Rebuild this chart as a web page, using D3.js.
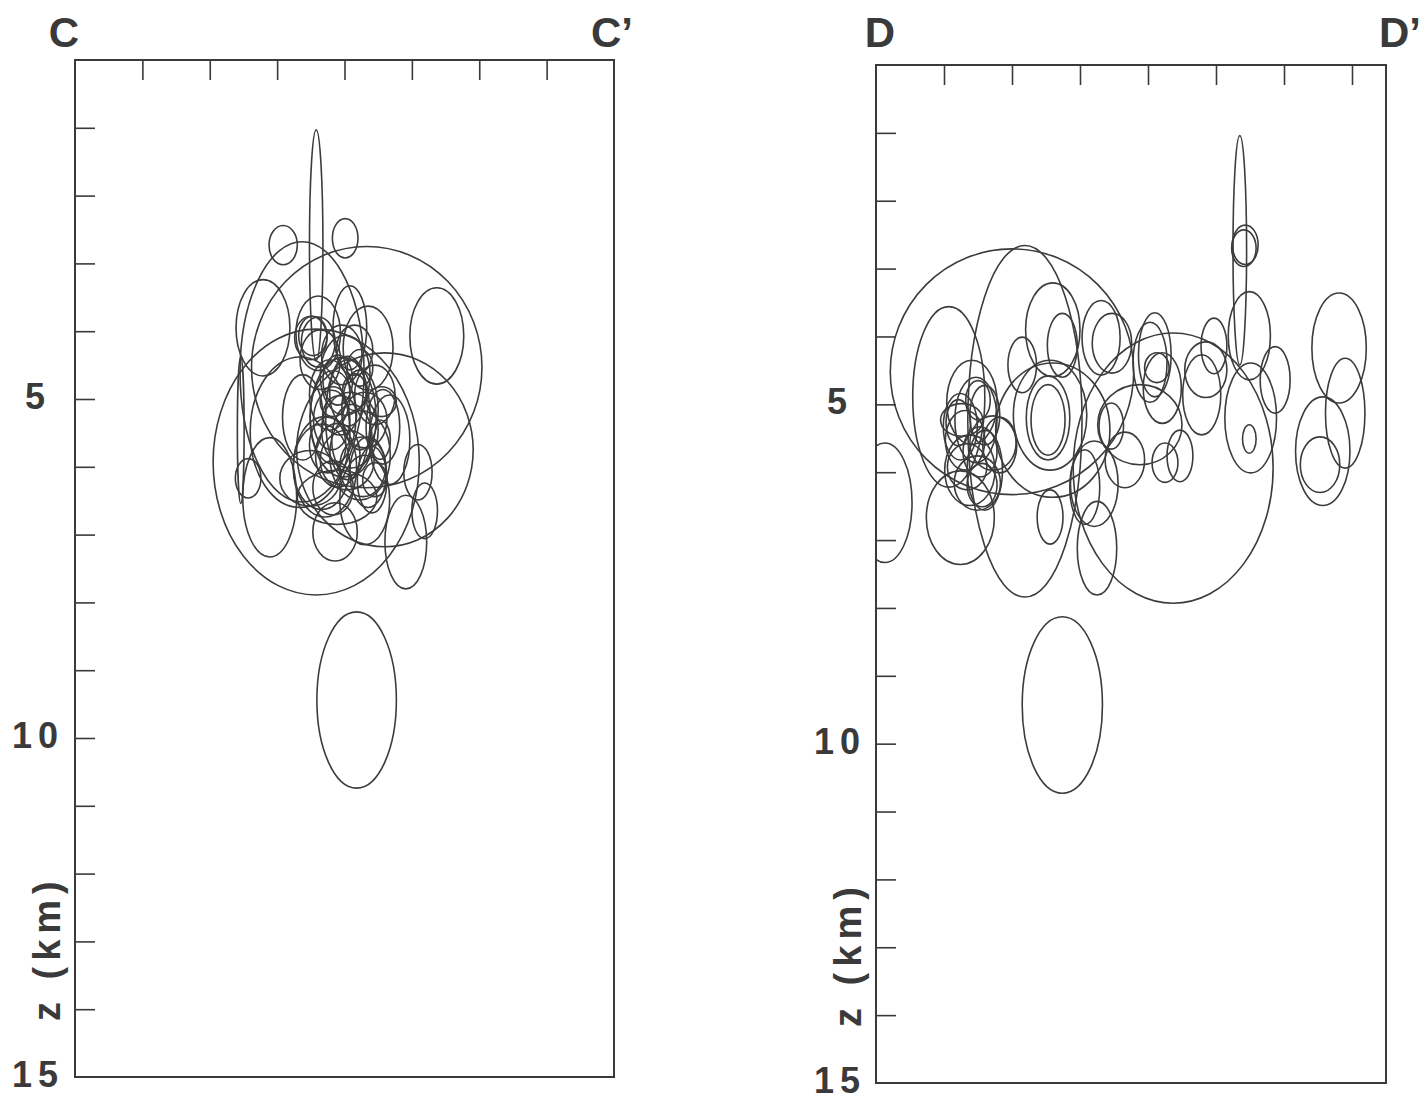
<!DOCTYPE html>
<html><head><meta charset="utf-8">
<script src="https://cdn.jsdelivr.net/npm/d3@7"></script>
<style>
html,body{margin:0;padding:0;background:#fff;}
svg{display:block;}
text{font-family:"Liberation Sans",Arial,Helvetica,sans-serif;font-weight:bold;fill:#3a3a3a;}
</style></head>
<body>
<svg id="chart" width="1428" height="1100"></svg>
<script>
// ---- data (km) ----
const xTicks = [1,2,3,4,5,6,7];
const zTicks = [1,2,3,4,5,6,7,8,9,10,11,12,13,14];
const zLabels = [5,10,15];
const axisTitle = "z (km)";
const panelNames = ["C","C’","D","D’"];

// Section C-C' : centre x, centre z, half-width, half-height (km)
const cX  = [3.58,2.46,3.09,4.01,4.33,5.37,3.58,4.60,2.79,3.37,2.57,2.89,3.86,4.91,5.09,5.19,4.18,3.50,3.53,3.61,3.61,4.08,4.35,3.98,4.57,4.53,3.83,4.05,3.81,4.05,4.04,4.27,3.38,3.49,3.89,4.35,4.30,3.71,3.83,4.45,4.23,3.83,4.15,4.55,3.93,3.66,4.41,3.34,3.90,4.11,4.30,3.75,3.96,4.67,4.23,
             4.01,3.78,4.23,4.08,4.45,3.90,3.64,4.15];
const cZ  = [2.73,5.46,2.73,2.63,4.53,4.07,5.93,5.75,3.95,4.60,6.17,6.45,6.96,7.11,6.08,6.65,9.44,4.10,4.07,4.16,4.03,3.95,4.25,5.27,5.41,5.60,5.27,5.28,5.31,4.91,5.90,6.00,5.27,6.17,6.45,6.08,6.49,6.00,6.31,6.19,4.54,5.04,4.90,5.04,5.24,6.00,6.19,5.49,4.72,5.60,5.31,5.68,4.35,5.60,5.83,
             4.65,4.94,5.16,5.46,4.94,5.83,4.42,4.28];
const cEx = [0.10,0.05,0.21,0.19,1.71,0.40,1.53,1.31,0.40,0.92,0.19,0.40,0.33,0.31,0.21,0.19,0.59,0.24,0.21,0.25,0.33,0.25,0.37,0.49,0.25,0.15,0.34,0.33,0.27,0.27,0.40,0.34,0.30,0.45,0.59,0.27,0.37,0.47,0.30,0.18,0.19,0.19,0.18,0.22,0.25,0.42,0.22,0.74,0.22,0.30,0.33,0.27,0.30,0.30,0.45,
             0.37,0.30,0.27,0.42,0.30,0.33,0.30,0.27];
const cEz = [1.70,1.08,0.29,0.29,1.78,0.71,1.96,1.43,0.71,1.92,0.29,0.88,0.43,0.69,0.41,0.41,1.30,0.32,0.29,0.37,0.55,0.62,0.62,0.88,0.55,0.29,0.69,0.91,0.44,0.49,0.44,0.44,0.63,0.41,0.40,0.52,0.66,0.74,0.40,0.25,0.27,0.22,0.27,0.22,0.29,0.63,0.49,1.11,0.37,0.52,0.41,0.41,0.44,0.66,0.66,
             0.59,0.52,0.59,0.56,0.44,0.47,0.44,0.37];

// Section D-D'
const dX  = [5.35,5.43,5.41,2.00,2.19,1.07,0.13,1.24,2.60,2.74,2.15,2.56,2.53,2.53,4.37,3.31,3.21,3.25,2.56,3.46,3.66,4.10,4.03,4.21,4.13,4.85,4.97,5.49,5.51,5.49,5.87,4.25,4.47,4.79,3.88,6.81,6.90,6.57,6.53,2.60,3.07,2.74,1.41,1.47,1.24,1.21,1.53,1.50,1.49,1.56,1.72,1.82,1.26,1.34,1.60,3.47,
             1.31,1.60,1.38];
const dZ  = [2.73,2.65,2.70,4.52,5.25,4.89,6.45,6.67,3.90,4.13,4.42,5.16,5.20,5.23,5.94,4.02,6.17,7.12,6.66,5.32,5.82,4.27,4.38,4.76,4.46,4.49,4.14,3.99,5.20,5.51,4.64,5.86,5.76,4.86,5.30,4.17,5.13,5.69,5.89,5.38,6.22,9.43,4.97,5.23,5.33,5.27,5.70,4.94,6.16,6.19,5.57,5.60,5.23,5.92,5.97,4.10,
             5.53,5.16,5.97];
const dEx = [0.10,0.19,0.18,1.79,0.84,0.53,0.40,0.50,0.40,0.22,0.21,0.54,0.32,0.25,1.47,0.28,0.35,0.29,0.19,0.18,0.29,0.24,0.25,0.28,0.18,0.31,0.19,0.31,0.38,0.10,0.22,0.19,0.19,0.28,0.62,0.40,0.29,0.40,0.29,0.84,0.22,0.59,0.37,0.31,0.25,0.18,0.25,0.18,0.34,0.22,0.34,0.25,0.31,0.29,0.26,0.29,
             0.29,0.22,0.37];
const dEz = [1.69,0.29,0.27,1.81,2.59,1.33,0.88,0.69,0.69,0.47,0.41,0.81,0.62,0.52,1.99,0.55,0.63,0.69,0.40,0.34,0.41,0.62,0.59,0.52,0.22,0.41,0.41,0.65,0.81,0.21,0.49,0.29,0.38,0.59,0.59,0.81,0.81,0.80,0.41,0.99,0.55,1.30,0.62,0.63,0.49,0.34,0.37,0.29,0.40,0.32,0.40,0.41,0.24,0.34,0.59,0.44,
             0.44,0.44,0.52];

// ---- drawing ----
const svg = d3.select("#chart");
const ink = "#3a3a3a";

const panels = [
  {id:"c", xs:[75,614], ys:[60,1077], xMax:8,   X:cX, Z:cZ, EX:cEx, EZ:cEz, nameL:panelNames[0], nameR:panelNames[1],
   nameLx:64, nameRx:612, labelX:38, titleX:47},
  {id:"d", xs:[876,1386], ys:[65,1083], xMax:7.5, X:dX, Z:dZ, EX:dEx, EZ:dEz, nameL:panelNames[2], nameR:panelNames[3],
   nameLx:880, nameRx:1400, labelX:840, titleX:848}
];

panels.forEach(p => {
  const x = d3.scaleLinear().domain([0,p.xMax]).range(p.xs);
  const y = d3.scaleLinear().domain([0,15]).range(p.ys);
  const g = svg.append("g");

  g.append("clipPath").attr("id","clip-"+p.id)
    .append("rect").attr("x",p.xs[0]).attr("y",p.ys[0])
    .attr("width",p.xs[1]-p.xs[0]).attr("height",p.ys[1]-p.ys[0]);

  const data = p.X.map((v,i)=>({x:v,z:p.Z[i],ex:p.EX[i],ez:p.EZ[i]}));
  g.append("g").attr("clip-path","url(#clip-"+p.id+")")
    .selectAll("ellipse").data(data).join("ellipse")
    .attr("cx",d=>x(d.x)).attr("cy",d=>y(d.z))
    .attr("rx",d=>x(d.ex)-x(0)).attr("ry",d=>y(d.ez)-y(0))
    .attr("fill","none").attr("stroke","#3c3c3c").attr("stroke-width",1.6);

  // top axis ticks (pointing inward)
  const top = g.append("g").attr("transform",`translate(0,${p.ys[0]})`)
    .call(d3.axisTop(x).tickValues(xTicks).tickSize(-20).tickFormat(""));
  top.select(".domain").remove();
  top.selectAll("line").attr("stroke",ink).attr("stroke-width",1.6);

  // left axis ticks (pointing inward)
  const left = g.append("g").attr("transform",`translate(${p.xs[0]},0)`)
    .call(d3.axisLeft(y).tickValues(zTicks).tickSize(-20).tickFormat(""));
  left.select(".domain").remove();
  left.selectAll("line").attr("stroke",ink).attr("stroke-width",1.6);

  // frame
  g.append("rect").attr("x",p.xs[0]).attr("y",p.ys[0])
    .attr("width",p.xs[1]-p.xs[0]).attr("height",p.ys[1]-p.ys[0])
    .attr("fill","none").attr("stroke",ink).attr("stroke-width",2);

  // depth labels
  g.selectAll("text.zl").data(zLabels).join("text").attr("class","zl")
    .attr("x",p.labelX).attr("y",d=>y(d)+10)
    .attr("text-anchor","middle").attr("font-size",36).attr("letter-spacing",6)
    .text(d=>d);

  // axis title
  g.append("text").attr("transform",`translate(${p.titleX + 13},${y(13.1)}) rotate(-90)`)
    .attr("text-anchor","middle").attr("font-size",38).attr("letter-spacing",6)
    .text(axisTitle);

  // section names
  g.append("text").attr("x",p.nameLx).attr("y",47).attr("text-anchor","middle")
    .attr("font-size",42).text(p.nameL);
  g.append("text").attr("x",p.nameRx).attr("y",47).attr("text-anchor","middle")
    .attr("font-size",42).text(p.nameR);
});
</script>
</body></html>
